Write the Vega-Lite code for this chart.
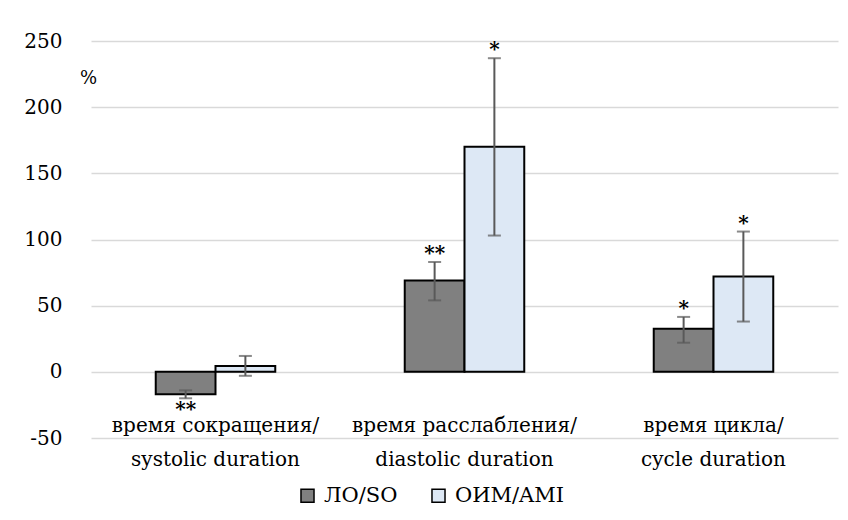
{
  "$schema": "https://vega.github.io/schema/vega-lite/v6.json",
  "autosize": {"type": "none"},
  "width": 747,
  "height": 397,
  "padding": {"left": 91, "top": 41, "right": 10, "bottom": 82},
  "background": "white",
  "config": {
    "view": {"stroke": null},
    "font": "DejaVu Serif",
    "axis": {"labelFont": "DejaVu Serif", "titleFont": "DejaVu Serif"},
    "legend": {"labelFont": "DejaVu Serif"},
    "text": {"font": "DejaVu Serif"}
  },
  "data": {
    "values": [
      {"cat": "время сокращения/|systolic duration", "series": "ЛО/SO", "value": -17, "lo": -20, "hi": -14, "star": "**"},
      {"cat": "время сокращения/|systolic duration", "series": "ОИМ/AMI", "value": 4.5, "lo": -3, "hi": 12, "star": ""},
      {"cat": "время расслабления/|diastolic duration", "series": "ЛО/SO", "value": 69, "lo": 54, "hi": 83, "star": "**"},
      {"cat": "время расслабления/|diastolic duration", "series": "ОИМ/AMI", "value": 170, "lo": 103, "hi": 237, "star": "*"},
      {"cat": "время цикла/|cycle duration", "series": "ЛО/SO", "value": 32.5, "lo": 22, "hi": 41.5, "star": "*"},
      {"cat": "время цикла/|cycle duration", "series": "ОИМ/AMI", "value": 72, "lo": 38, "hi": 106, "star": "*"}
    ]
  },
  "encoding": {
    "x": {
      "field": "cat", "type": "nominal", "sort": null,
      "scale": {"paddingInner": 0.52, "paddingOuter": 0.26},
      "axis": {
        "title": null, "domain": false, "ticks": false, "grid": false,
        "labelAngle": 0, "labelAlign": "center", "labelBaseline": "top",
        "labelPadding": -23, "labelFontSize": 20, "labelColor": "#000000",
        "labelLineHeight": 34, "labelLimit": 400,
        "labelExpr": "split(datum.label, '|')"
      }
    },
    "xOffset": {"field": "series", "type": "nominal", "sort": ["ЛО/SO", "ОИМ/AMI"]}
  },
  "layer": [
    {
      "mark": {"type": "bar", "stroke": "#000000", "strokeWidth": 2},
      "encoding": {
        "y": {
          "field": "value", "type": "quantitative",
          "scale": {"domain": [-50, 250], "nice": false},
          "axis": {
            "values": [-50, 0, 50, 100, 150, 200, 250],
            "labelExpr": "'' + datum.value",
            "domain": false, "ticks": false,
            "grid": true, "gridColor": "#d9d9d9", "gridWidth": 1.5,
            "labelFontSize": 20, "labelColor": "#000000", "labelPadding": 29,
            "title": "%", "titleAngle": 0, "titleFontSize": 18, "titleFontWeight": "normal",
            "titleAlign": "center", "titleBaseline": "alphabetic",
            "titleX": -3, "titleY": 42, "titleColor": "#000000"
          }
        },
        "fill": {
          "field": "series", "type": "nominal",
          "sort": ["ЛО/SO", "ОИМ/AMI"],
          "scale": {"domain": ["ЛО/SO", "ОИМ/AMI"], "range": ["#808080", "#dde8f5"]},
          "legend": {
            "title": null, "orient": "none", "direction": "horizontal",
            "legendX": 206, "legendY": 444,
            "symbolType": "square", "symbolSize": 170, "symbolStrokeColor": "#000000",
            "symbolStrokeWidth": 1.5, "labelFontSize": 21, "labelColor": "#000000",
            "labelOffset": 6, "columnPadding": 30, "labelLimit": 300
          }
        }
      }
    },
    {
      "mark": {"type": "rule", "color": "#595959", "strokeWidth": 2},
      "encoding": {
        "y": {"field": "lo", "type": "quantitative"},
        "y2": {"field": "hi"}
      }
    },
    {
      "mark": {"type": "tick", "color": "#595959", "thickness": 2, "size": 13},
      "encoding": {"y": {"field": "lo", "type": "quantitative"}}
    },
    {
      "mark": {"type": "tick", "color": "#595959", "thickness": 2, "size": 13},
      "encoding": {"y": {"field": "hi", "type": "quantitative"}}
    },
    {
      "transform": [{"filter": "datum.value > 0"}],
      "mark": {"type": "text", "fontSize": 20, "fontWeight": "bold", "baseline": "alphabetic", "dy": -2, "color": "#000000"},
      "encoding": {
        "y": {"field": "hi", "type": "quantitative"},
        "text": {"field": "star"}
      }
    },
    {
      "transform": [{"filter": "datum.value < 0"}],
      "mark": {"type": "text", "fontSize": 20, "fontWeight": "bold", "baseline": "alphabetic", "dy": 18, "color": "#000000"},
      "encoding": {
        "y": {"field": "lo", "type": "quantitative"},
        "text": {"field": "star"}
      }
    }
  ]
}
